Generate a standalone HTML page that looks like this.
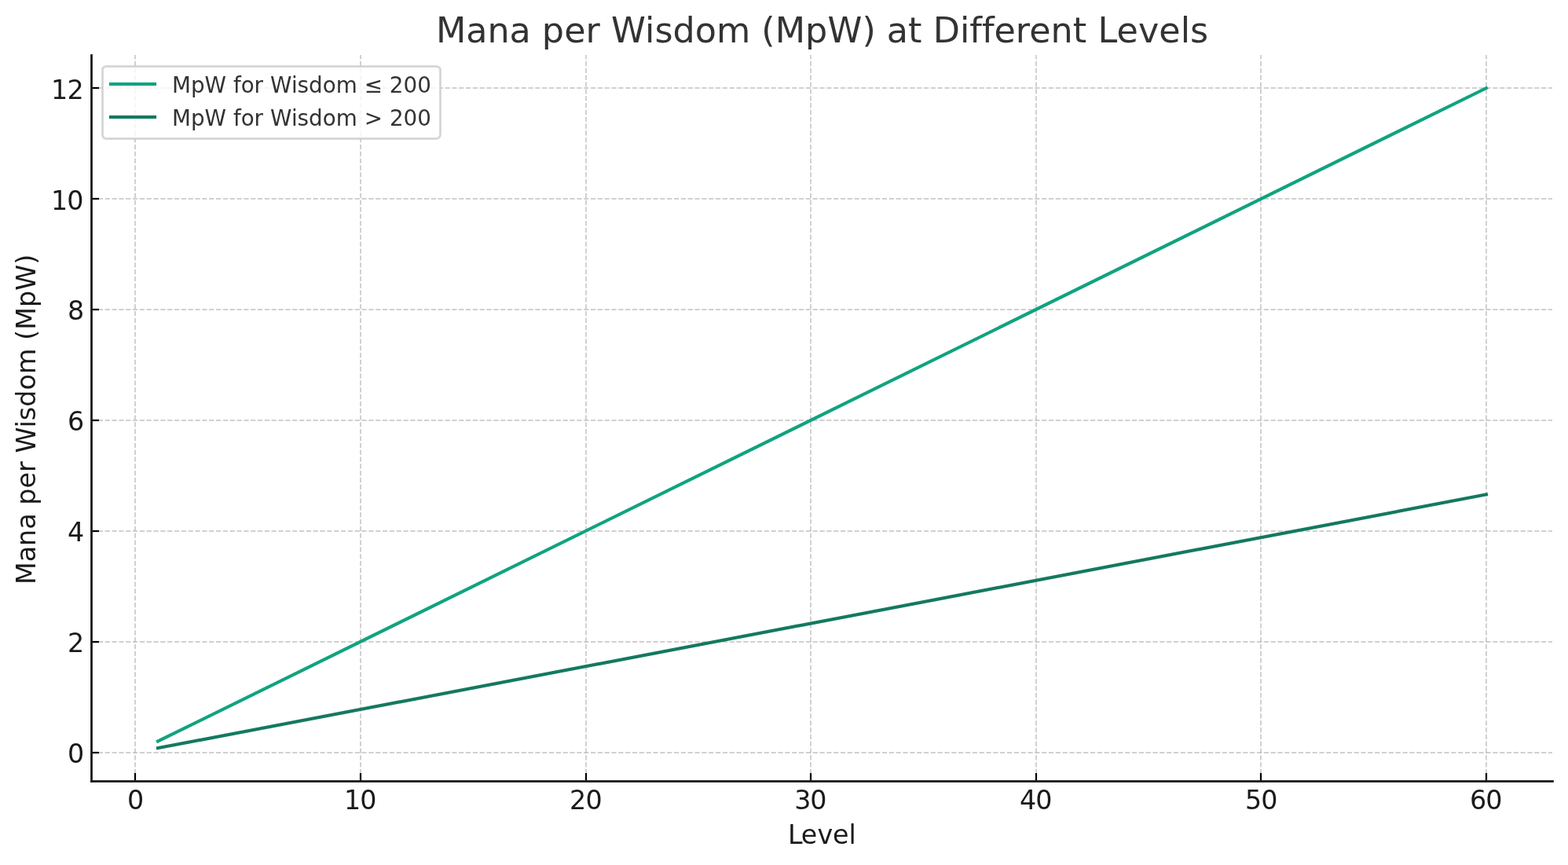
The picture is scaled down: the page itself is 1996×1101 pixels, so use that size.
<!DOCTYPE html>
<html lang="en"><head><meta charset="utf-8"><title>Mana per Wisdom (MpW) at Different Levels</title>
<style>html,body{margin:0;padding:0;background:#fff;overflow:hidden}svg{display:block}text{font-family:"DejaVu Sans","Liberation Sans",sans-serif;font-variant-ligatures:none;}</style></head><body>
<svg width="1996" height="1101" viewBox="0 0 1996 1101">
<rect width="1996" height="1101" fill="#ffffff"/>
<defs>
<linearGradient id="gv" gradientUnits="userSpaceOnUse" x1="0" y1="994" x2="0" y2="985.167" spreadMethod="repeat"><stop offset="0.00000" stop-color="#b0b0b0" stop-opacity="0.5"/><stop offset="0.05660" stop-color="#b0b0b0" stop-opacity="1"/><stop offset="0.64151" stop-color="#b0b0b0" stop-opacity="1"/><stop offset="0.75472" stop-color="#b0b0b0" stop-opacity="0"/><stop offset="0.94340" stop-color="#b0b0b0" stop-opacity="0"/><stop offset="1.00000" stop-color="#b0b0b0" stop-opacity="0.5"/></linearGradient>
<linearGradient id="gh" gradientUnits="userSpaceOnUse" x1="116" y1="0" x2="124.833" y2="0" spreadMethod="repeat"><stop offset="0.00000" stop-color="#b0b0b0" stop-opacity="0.5"/><stop offset="0.05660" stop-color="#b0b0b0" stop-opacity="1"/><stop offset="0.64151" stop-color="#b0b0b0" stop-opacity="1"/><stop offset="0.75472" stop-color="#b0b0b0" stop-opacity="0"/><stop offset="0.94340" stop-color="#b0b0b0" stop-opacity="0"/><stop offset="1.00000" stop-color="#b0b0b0" stop-opacity="0.5"/></linearGradient>
</defs>
<g fill-opacity="0.7">
<rect x="171.167" y="70" width="1.667" height="924" fill="url(#gv)"/>
<rect x="458.167" y="70" width="1.667" height="924" fill="url(#gv)"/>
<rect x="745.167" y="70" width="1.667" height="924" fill="url(#gv)"/>
<rect x="1031.167" y="70" width="1.667" height="924" fill="url(#gv)"/>
<rect x="1318.167" y="70" width="1.667" height="924" fill="url(#gv)"/>
<rect x="1604.167" y="70" width="1.667" height="924" fill="url(#gv)"/>
<rect x="1891.167" y="70" width="1.667" height="924" fill="url(#gv)"/>
<rect x="116" y="957.167" width="1860" height="1.667" fill="url(#gh)"/>
<rect x="116" y="816.167" width="1860" height="1.667" fill="url(#gh)"/>
<rect x="116" y="675.167" width="1860" height="1.667" fill="url(#gh)"/>
<rect x="116" y="534.167" width="1860" height="1.667" fill="url(#gh)"/>
<rect x="116" y="393.167" width="1860" height="1.667" fill="url(#gh)"/>
<rect x="116" y="252.167" width="1860" height="1.667" fill="url(#gh)"/>
<rect x="116" y="111.167" width="1860" height="1.667" fill="url(#gh)"/>
</g>
<polygon points="200.053,946.335 1894.702,113.117 1892.863,109.378 198.215,942.596" fill="#10a37f"/>
<polygon points="199.348,954.604 1894.350,631.052 1893.569,626.959 198.567,950.511" fill="#147960"/>
<g fill="#000000">
<rect x="170.889" y="984" width="2.222" height="10"/>
<rect x="457.889" y="984" width="2.222" height="10"/>
<rect x="744.889" y="984" width="2.222" height="10"/>
<rect x="1030.889" y="984" width="2.222" height="10"/>
<rect x="1317.889" y="984" width="2.222" height="10"/>
<rect x="1603.889" y="984" width="2.222" height="10"/>
<rect x="1890.889" y="984" width="2.222" height="10"/>
<rect x="116" y="956.889" width="10" height="2.222"/>
<rect x="116" y="815.889" width="10" height="2.222"/>
<rect x="116" y="674.889" width="10" height="2.222"/>
<rect x="116" y="533.889" width="10" height="2.222"/>
<rect x="116" y="392.889" width="10" height="2.222"/>
<rect x="116" y="251.889" width="10" height="2.222"/>
<rect x="116" y="110.889" width="10" height="2.222"/>
</g>
<g fill="#1a1a1a">
<rect x="115.111" y="69.111" width="2.778" height="926.778"/>
<rect x="115.111" y="993.111" width="1862.778" height="2.778"/>
</g>
<g fill="#1a1a1a" font-size="33.333px">
<text x="162" y="1030">0</text>
<text x="438 458.25" y="1030">10</text>
<text x="725 745.375" y="1030">20</text>
<text x="1011.125 1031.25" y="1030">30</text>
<text x="1298 1318.25" y="1030">40</text>
<text x="1585 1605.25" y="1030">50</text>
<text x="1871 1891.25" y="1030">60</text>
<text x="86" y="971">0</text>
<text x="86" y="830">2</text>
<text x="86" y="689">4</text>
<text x="86" y="548">6</text>
<text x="86" y="407">8</text>
<text x="65 85.25" y="267">10</text>
<text x="65 85.375" y="126">12</text>
<text x="1003 1019.75 1040.375 1060 1080.5" y="1074">Level</text>
<text transform="translate(45 743.94) rotate(-90)" x="0 28.75 49 70.25 90.625 101.25 122.5 143 156.75 167.375 199.5 208.75 226.25 247.5 268 300.625 311.25 324.25 353 374.25 407.25" y="0">Mana per Wisdom (MpW)</text>
</g>
<text x="555 593.25 620.5 648.5 675.75 689.75 718.125 745.5 763.875 778 821 833.375 856.5 884.75 912 955.25 969.25 986.75 1025 1053.375 1097.375 1114.625 1128.75 1155.875 1173.5 1187.625 1221.875 1234.125 1249.875 1265.5 1292.75 1310.125 1337.5 1365.75 1383.375 1397.5 1421.5 1448.875 1475.25 1502.625 1515" y="54" font-size="44.444px" fill="#333333">Mana per Wisdom (MpW) at Different Levels</text>
<path d="M135.5 84.5L554.5 84.5Q560.5 84.5 560.5 89.5L560.5 170.5Q560.5 176.5 554.5 176.5L135.5 176.5Q130.5 176.5 130.5 170.5L130.5 89.5Q130.5 84.5 135.5 84.5Z" fill="#ffffff" fill-opacity="0.8"/>
<path d="M135.5 84.5L554.5 84.5Q560.5 84.5 560.5 89.5L560.5 170.5Q560.5 176.5 554.5 176.5L135.5 176.5Q130.5 176.5 130.5 170.5L130.5 89.5Q130.5 84.5 135.5 84.5Z" fill="none" stroke="#cccccc" stroke-opacity="0.7255" stroke-width="3"/>
<path d="M135.5 84.5L554.5 84.5Q560.5 84.5 560.5 89.5L560.5 170.5Q560.5 176.5 554.5 176.5L135.5 176.5Q130.5 176.5 130.5 170.5L130.5 89.5Q130.5 84.5 135.5 84.5Z" fill="none" stroke="#cccccc" stroke-opacity="0.286" stroke-width="1"/>
<rect x="138.917" y="104.917" width="60.167" height="4.167" fill="#10a37f"/>
<rect x="138.917" y="146.917" width="60.167" height="4.167" fill="#147960"/>
<g fill="#333333" font-size="27.778px">
<text x="219 243 260.5 288.125 297 306.75 323.5 335.125 344 370.875 378.5 393 410.75 427.625 454.75 463.625 486.875 495.75 513.375 531.125" y="118">MpW for Wisdom ≤ 200</text>
<text x="219 243 260.5 288.125 297 306.75 323.5 335.125 344 370.875 378.5 393 410.75 427.625 454.75 463.625 487 495.875 513.5 531.25" y="160">MpW for Wisdom &gt; 200</text>
</g>
</svg></body></html>
